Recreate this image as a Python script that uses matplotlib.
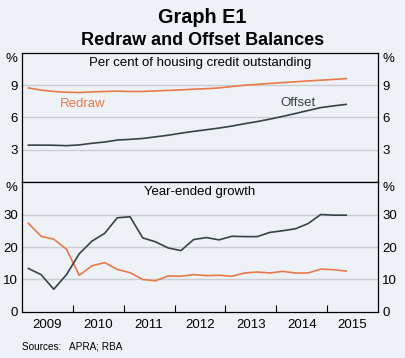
import numpy as np
import matplotlib
matplotlib.use("Agg")
import matplotlib.pyplot as plt

plt.rcParams["font.family"] = ["Liberation Sans", "DejaVu Sans"]

# quarterly observations, Mar-2009 .. Jun-2015
quarters = np.arange(26)
redraw_level = [8.75, 8.55, 8.42, 8.35, 8.32, 8.38, 8.42, 8.45, 8.42, 8.42, 8.47, 8.52, 8.57,
                8.63, 8.68, 8.75, 8.88, 9.00, 9.08, 9.17, 9.25, 9.32, 9.40, 9.47, 9.54, 9.62]
offset_level = [3.43, 3.43, 3.42, 3.38, 3.45, 3.60, 3.72, 3.90, 3.97, 4.05, 4.20, 4.35, 4.54,
                4.71, 4.86, 5.02, 5.20, 5.42, 5.62, 5.85, 6.10, 6.37, 6.65, 6.92, 7.08, 7.22]
redraw_growth = [27.3, 23.3, 22.4, 19.3, 11.3, 14.2, 15.2, 13.1, 12.1, 10.0, 9.6, 11.1, 11.0,
                 11.5, 11.2, 11.3, 11.0, 12.0, 12.3, 12.0, 12.5, 12.0, 12.0, 13.2, 13.0, 12.6]
offset_growth = [13.4, 11.5, 7.0, 11.5, 17.9, 21.8, 24.2, 29.0, 29.3, 22.8, 21.6, 19.7, 18.9,
                 22.3, 22.9, 22.2, 23.3, 23.2, 23.2, 24.5, 25.0, 25.6, 27.2, 30.0, 29.8, 29.8]
years = [2009, 2010, 2011, 2012, 2013, 2014, 2015]

BG = "#eef2f6"
ORANGE = "#e8794a"
DARK = "#36424b"
GRID = "#c9cdd2"

x = 2009.125 + 0.25 * quarters

fig = plt.figure(figsize=(4.05, 3.58), dpi=100, facecolor=BG)
ax1 = fig.add_axes([0.0543, 0.4916, 0.879, 0.3604])
ax2 = fig.add_axes([0.0543, 0.1285, 0.879, 0.3631])


def style(ax, ylim, yticks):
    ax.set_facecolor(BG)
    ax.set_xlim(2009, 2016)
    ax.set_ylim(*ylim)
    ax.set_yticks(yticks)
    ax.tick_params(axis="y", length=0, labelsize=9.5, pad=3, labelright=True, right=False)
    for yt in yticks:
        if yt != ylim[0]:
            ax.axhline(yt, color=GRID, lw=1, zorder=0)
    for s in ax.spines.values():
        s.set_color("black")
        s.set_linewidth(0.9)
    ax.text(-0.012, 1.0, "%", transform=ax.transAxes, ha="right", va="top", fontsize=9.5)
    ax.text(1.012, 1.0, "%", transform=ax.transAxes, ha="left", va="top", fontsize=9.5)


style(ax1, (0, 12), [3, 6, 9])
style(ax2, (0, 40), [0, 10, 20, 30])

ax1.plot(x, redraw_level, color=ORANGE, lw=1.2)
ax1.plot(x, offset_level, color=DARK, lw=1.2)
ax1.text(2010.19, 7.25, "Redraw", color=ORANGE, ha="center", va="center", fontsize=9.5)
ax1.text(2014.42, 7.37, "Offset", color=DARK, ha="center", va="center", fontsize=9.5)
ax1.text(0.5, 0.97, "Per cent of housing credit outstanding", transform=ax1.transAxes,
         ha="center", va="top", fontsize=9.5)
ax1.set_xticks([])

ax2.plot(x, redraw_growth, color=ORANGE, lw=1.2)
ax2.plot(x, offset_growth, color=DARK, lw=1.2)
ax2.text(0.5, 0.97, "Year-ended growth", transform=ax2.transAxes,
         ha="center", va="top", fontsize=9.5)
ax2.set_xticks(years[1:])
ax2.set_xticklabels([])
ax2.tick_params(axis="x", which="major", direction="in", length=5, color="black")
ax2.set_xticks([y + 0.5 for y in years], minor=True)
ax2.set_xticklabels([str(y) for y in years], minor=True)
ax2.tick_params(axis="x", which="minor", length=0, labelsize=9.5, pad=5)

fig.text(0.5, 0.950, "Graph E1", ha="center", va="center", fontsize=14.3, fontweight="bold")
fig.text(0.5, 0.886, "Redraw and Offset Balances", ha="center", va="center",
         fontsize=13, fontweight="bold")
fig.text(0.054, 0.033, "Sources:   APRA; RBA", ha="left", va="center", fontsize=7.2)

fig.savefig("out.png", dpi=100, facecolor=BG)
